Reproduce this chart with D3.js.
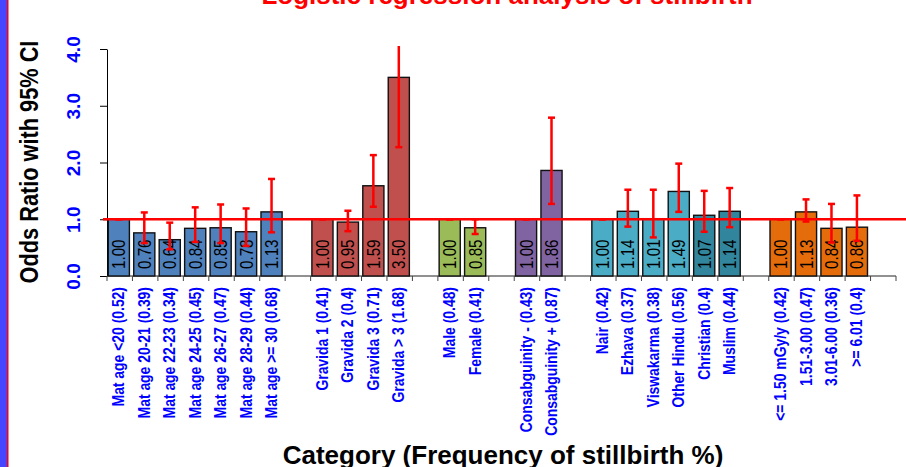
<!DOCTYPE html>
<html><head><meta charset="utf-8">
<script src="https://cdn.jsdelivr.net/npm/d3@7/dist/d3.min.js"></script>
<style>
html,body{margin:0;padding:0;background:#fff;}
svg{display:block;font-family:"Liberation Sans",Arial,sans-serif;}
</style></head>
<body><svg id="chart" width="906" height="467"></svg>
<script>
const chartTitle = "Logistic regression analysis of stillbirth";
const yTitle = "Odds Ratio with 95% CI";
const xTitle = "Category (Frequency of stillbirth %)";

const categories = ["Mat age <20 (0.52)","Mat age 20-21 (0.39)","Mat age 22-23 (0.34)","Mat age 24-25 (0.45)","Mat age 26-27 (0.47)","Mat age 28-29 (0.44)","Mat age >= 30 (0.68)",
  "Gravida 1 (0.41)","Gravida 2 (0.4)","Gravida 3 (0.71)","Gravida > 3 (1.68)",
  "Male (0.48)","Female (0.41)",
  "Consabguinity - (0.43)","Consabguinity + (0.87)",
  "Nair (0.42)","Ezhava (0.37)","Viswakarma (0.38)","Other Hindu (0.56)","Christian (0.4)","Muslim (0.44)",
  "<= 1.50 mGy/y (0.42)","1.51-3.00 (0.47)","3.01-6.00 (0.36)",">= 6.01 (0.4)"];
const sections = ["Maternal age","Maternal age","Maternal age","Maternal age","Maternal age","Maternal age","Maternal age",
  "Gravida","Gravida","Gravida","Gravida","Sex","Sex","Consanguinity","Consanguinity",
  "Religion","Religion","Religion","Religion","Religion","Religion",
  "Radiation","Radiation","Radiation","Radiation"];
const colorGroups = ["Maternal age","Maternal age","Maternal age","Maternal age","Maternal age","Maternal age","Maternal age",
  "Gravida","Gravida","Gravida","Gravida","Sex","Sex","Consanguinity","Consanguinity",
  "Hindu","Hindu","Hindu","Hindu","Non-Hindu","Non-Hindu",
  "Radiation","Radiation","Radiation","Radiation"];
const oddsRatio = [1.00,0.76,0.64,0.84,0.85,0.78,1.13, 1.00,0.95,1.59,3.50, 1.00,0.85, 1.00,1.86, 1.00,1.14,1.01,1.49,1.07,1.14, 1.00,1.13,0.84,0.86];
const ciLower  = [1.00,0.58,0.47,0.60,0.58,0.53,0.77, 1.00,0.79,1.22,2.27, 1.00,0.74, 1.00,1.27, 1.00,0.87,0.68,1.13,0.78,0.86, 1.00,0.96,0.59,0.62];
const ciUpper  = [1.00,1.12,0.94,1.21,1.26,1.19,1.71, 1.00,1.15,2.13,4.50, 1.00,1.00, 1.00,2.79, 1.00,1.52,1.52,1.98,1.50,1.55, 1.00,1.35,1.27,1.42];
const yTicks = [0,1,2,3,4];
const referenceOR = 1.0;

const colorScale = d3.scaleOrdinal()
  .domain(["Maternal age","Gravida","Sex","Consanguinity","Hindu","Non-Hindu","Radiation"])
  .range(["#4F81BD","#C0504D","#9BBB59","#8064A2","#4BACC6","#31859C","#E46C0A"]);

(function(){
const data = [];
let slot = 0;
categories.forEach((c,i)=>{
  if(i>0 && sections[i]!==sections[i-1]) slot++;
  data.push({cat:c, slot:slot, or:oddsRatio[i], lo:ciLower[i], hi:ciUpper[i], grp:colorGroups[i]});
  slot++;
});
const nSlots = slot + 1;

const svg = d3.select("#chart");
const pLeft = 107, pRight = 896, pTop = 49, pBottom = 276;
const x = d3.scaleBand().domain(d3.range(nSlots)).range([pLeft,pRight]).paddingInner(0).paddingOuter(0);
const y = d3.scaleLinear().domain([0,4]).range([pBottom,pTop]);
const bw = x.bandwidth();
const barX = d => x(d.slot) + bw*0.05;
const barW = bw*0.83;
const cx = d => barX(d) + barW/2;

svg.append("rect").attr("x",0).attr("y",0).attr("width",7).attr("height",467).attr("fill","#4646FF");
svg.append("rect").attr("x",7).attr("y",0).attr("width",1.5).attr("height",467).attr("fill","#FF0000");

svg.append("text").attr("x",507).attr("y",4).attr("text-anchor","middle")
  .attr("font-size",26).attr("font-weight","bold").attr("fill","#FF0000").text(chartTitle);

const yAxis = d3.axisLeft(y).tickValues(yTicks).tickFormat(d3.format(".1f")).tickSize(7).tickSizeOuter(0);
const yg = svg.append("g").attr("transform",`translate(${pLeft},0)`).call(yAxis);
yg.select(".domain").attr("stroke","#000");
yg.selectAll(".tick line").attr("stroke","#000");
yg.selectAll(".tick text")
  .attr("x",0).attr("dy",0)
  .attr("transform",`translate(${80-pLeft},0) rotate(-90)`)
  .attr("text-anchor","middle")
  .attr("font-size",19).attr("font-weight","bold").attr("fill","#0000FF")
  .attr("font-family","'Liberation Sans',Arial,sans-serif");

const xb = svg.append("g");
xb.append("line").attr("x1",pLeft).attr("x2",pRight).attr("y1",pBottom).attr("y2",pBottom).attr("stroke","#222").attr("stroke-width",1);
xb.selectAll("line.tk").data(d3.range(nSlots+1)).join("line").attr("class","tk")
  .attr("x1",i=>pLeft+i*bw).attr("x2",i=>pLeft+i*bw).attr("y1",pBottom).attr("y2",pBottom+5)
  .attr("stroke","#444").attr("stroke-width",1);

svg.append("g").selectAll("rect").data(data).join("rect")
  .attr("x",barX).attr("width",barW)
  .attr("y",d=>y(d.or)).attr("height",d=>y(0)-y(d.or))
  .attr("fill",d=>colorScale(d.grp)).attr("stroke","#111").attr("stroke-width",1.4);

svg.append("g").selectAll("text").data(data).join("text")
  .attr("transform",d=>`translate(${cx(d)+6.5},${y(0)-7}) rotate(-90) scale(0.8,1)`)
  .attr("text-anchor","start").attr("font-size",19).attr("fill","#000")
  .text(d=>d.or.toFixed(2));

svg.append("line").attr("x1",103).attr("x2",906).attr("y1",y(referenceOR)).attr("y2",y(referenceOR))
  .attr("stroke","#FF0000").attr("stroke-width",2.5);

svg.append("defs").append("clipPath").attr("id","clip").append("rect")
  .attr("x",pLeft).attr("y",46).attr("width",pRight-pLeft+10).attr("height",pBottom-46+10);
const eb = svg.append("g").attr("clip-path","url(#clip)");
const cap = 3.5;
eb.selectAll("line.v").data(data).join("line").attr("class","v")
  .attr("x1",cx).attr("x2",cx).attr("y1",d=>y(d.lo)).attr("y2",d=>y(d.hi))
  .attr("stroke","#FF0000").attr("stroke-width",2.5);
eb.selectAll("line.hc").data(data).join("line").attr("class","hc")
  .attr("x1",d=>cx(d)-cap).attr("x2",d=>cx(d)+cap).attr("y1",d=>y(d.hi)).attr("y2",d=>y(d.hi))
  .attr("stroke","#FF0000").attr("stroke-width",2.5);
eb.selectAll("line.lc").data(data).join("line").attr("class","lc")
  .attr("x1",d=>cx(d)-cap).attr("x2",d=>cx(d)+cap).attr("y1",d=>y(d.lo)).attr("y2",d=>y(d.lo))
  .attr("stroke","#FF0000").attr("stroke-width",2.5);

svg.append("g").selectAll("text").data(data).join("text")
  .attr("transform",d=>`translate(${cx(d)+5.5},${287}) rotate(-90) scale(0.87,1)`)
  .attr("text-anchor","end").attr("font-size",16).attr("font-weight","bold").attr("fill","#0000FF")
  .text(d=>d.cat);

svg.append("text").attr("transform",`translate(38,162) rotate(-90) scale(0.87,1)`)
  .attr("text-anchor","middle").attr("font-size",25).attr("font-weight","bold").attr("fill","#000").text(yTitle);
svg.append("text").attr("x",503).attr("y",464).attr("text-anchor","middle")
  .attr("font-size",26).attr("font-weight","bold").attr("fill","#000").text(xTitle);
})();
</script></body></html>
